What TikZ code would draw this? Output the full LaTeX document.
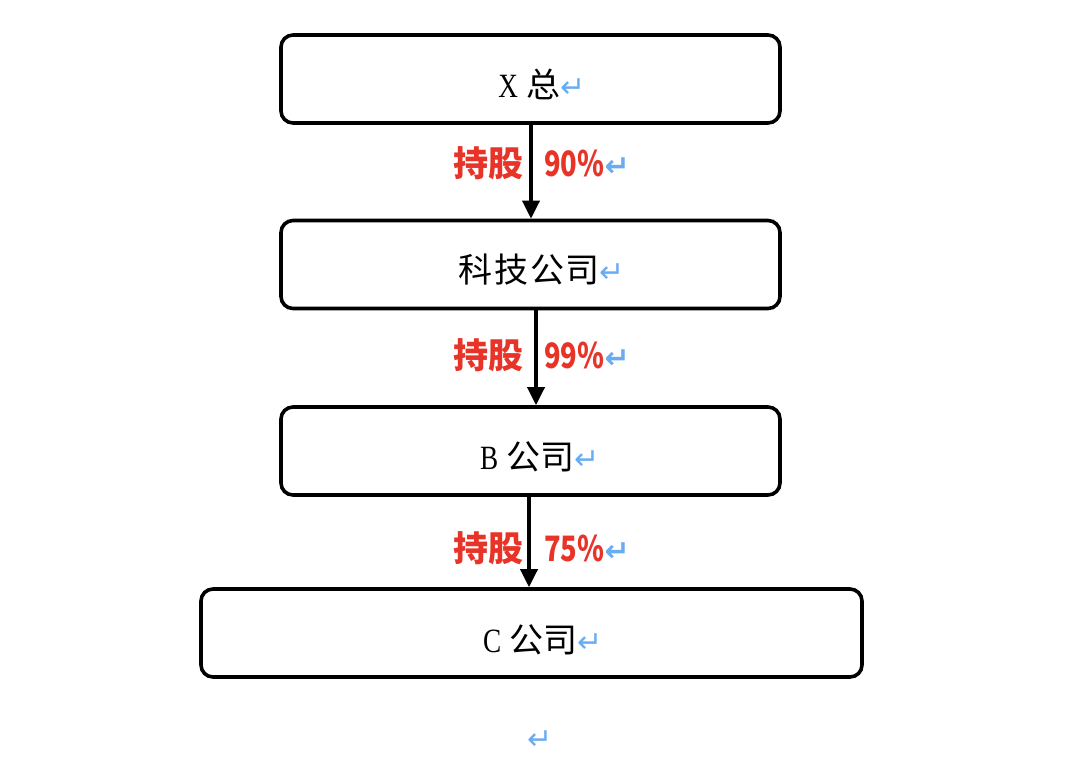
\documentclass[tikz,border=0pt]{standalone}
\usepackage{fontspec}
\usepackage{graphicx}
\usetikzlibrary{arrows.meta}
\newfontfamily\cjk{Noto Sans CJK SC}
\newfontfamily\lat{Liberation Serif}
\newfontfamily\arr{DejaVu Sans}
\definecolor{lblred}{RGB}{232,52,40}
\definecolor{retblue}{RGB}{105,172,240}
\newcommand{\ret}{{\arr\color{retblue}\fontsize{30}{32}\selectfont ↵}}
\newcommand{\latx}[1]{\scalebox{0.8}[1]{\lat #1}}
\newcommand{\pct}[1]{\scalebox{0.78}[1]{#1}}
\tikzset{
  box/.style={draw=black, line width=3.6pt, rounded corners=12pt, minimum height=88pt},
  boxtext/.style={font=\cjk\fontsize{34}{36}\selectfont, inner sep=0pt},
  lbl/.style={font=\cjk\bfseries\fontsize{35}{38}\selectfont, text=lblred, inner sep=0pt},
  conn/.style={line width=3.6pt, -{Triangle[length=18pt,width=17pt]}}
}
\begin{document}
\begin{tikzpicture}[x=1pt,y=-1pt]
\useasboundingbox (0,0) rectangle (1068,780);
\node[box, minimum width=499pt] (b1) at (530.5,79) {};
\node[box, minimum width=499pt] (b2) at (530.5,264.5) {};
\node[box, minimum width=499pt] (b3) at (530.5,451) {};
\node[box, minimum width=661pt] (b4) at (531.5,633) {};
\node[boxtext] (t1) at (542,84) {\latx{X}\hspace{0.25em}总\ret};
\node[boxtext] (t2) at (542,270) {科\hspace{0.05em}技\hspace{0.05em}公\hspace{0.05em}司\ret};
\node[boxtext] (t3) at (540,457) {\latx{B}\hspace{0.25em}公司\ret};
\node[boxtext] (t4) at (543,640) {\latx{C}\hspace{0.25em}公司\ret};
\draw[conn] ([xshift=0.5pt]b1.south) -- ([xshift=0.5pt]b2.north);
\draw[conn] ([xshift=5.5pt]b2.south) -- ([xshift=5.5pt]b3.north);
\draw[conn] ([xshift=-1.5pt]b3.south) -- ([xshift=-2.5pt]b4.north);
\node[lbl] (l1) at (541.5,163) {持股\hspace{0.6em}\pct{90\%}\ret};
\node[lbl] (l2) at (541.5,355) {持股\hspace{0.6em}\pct{99\%}\ret};
\node[lbl] (l3) at (541.5,548) {持股\hspace{0.6em}\pct{75\%}\ret};
\node[inner sep=0pt] (end) at (540,740) {\ret};
\end{tikzpicture}
\end{document}
